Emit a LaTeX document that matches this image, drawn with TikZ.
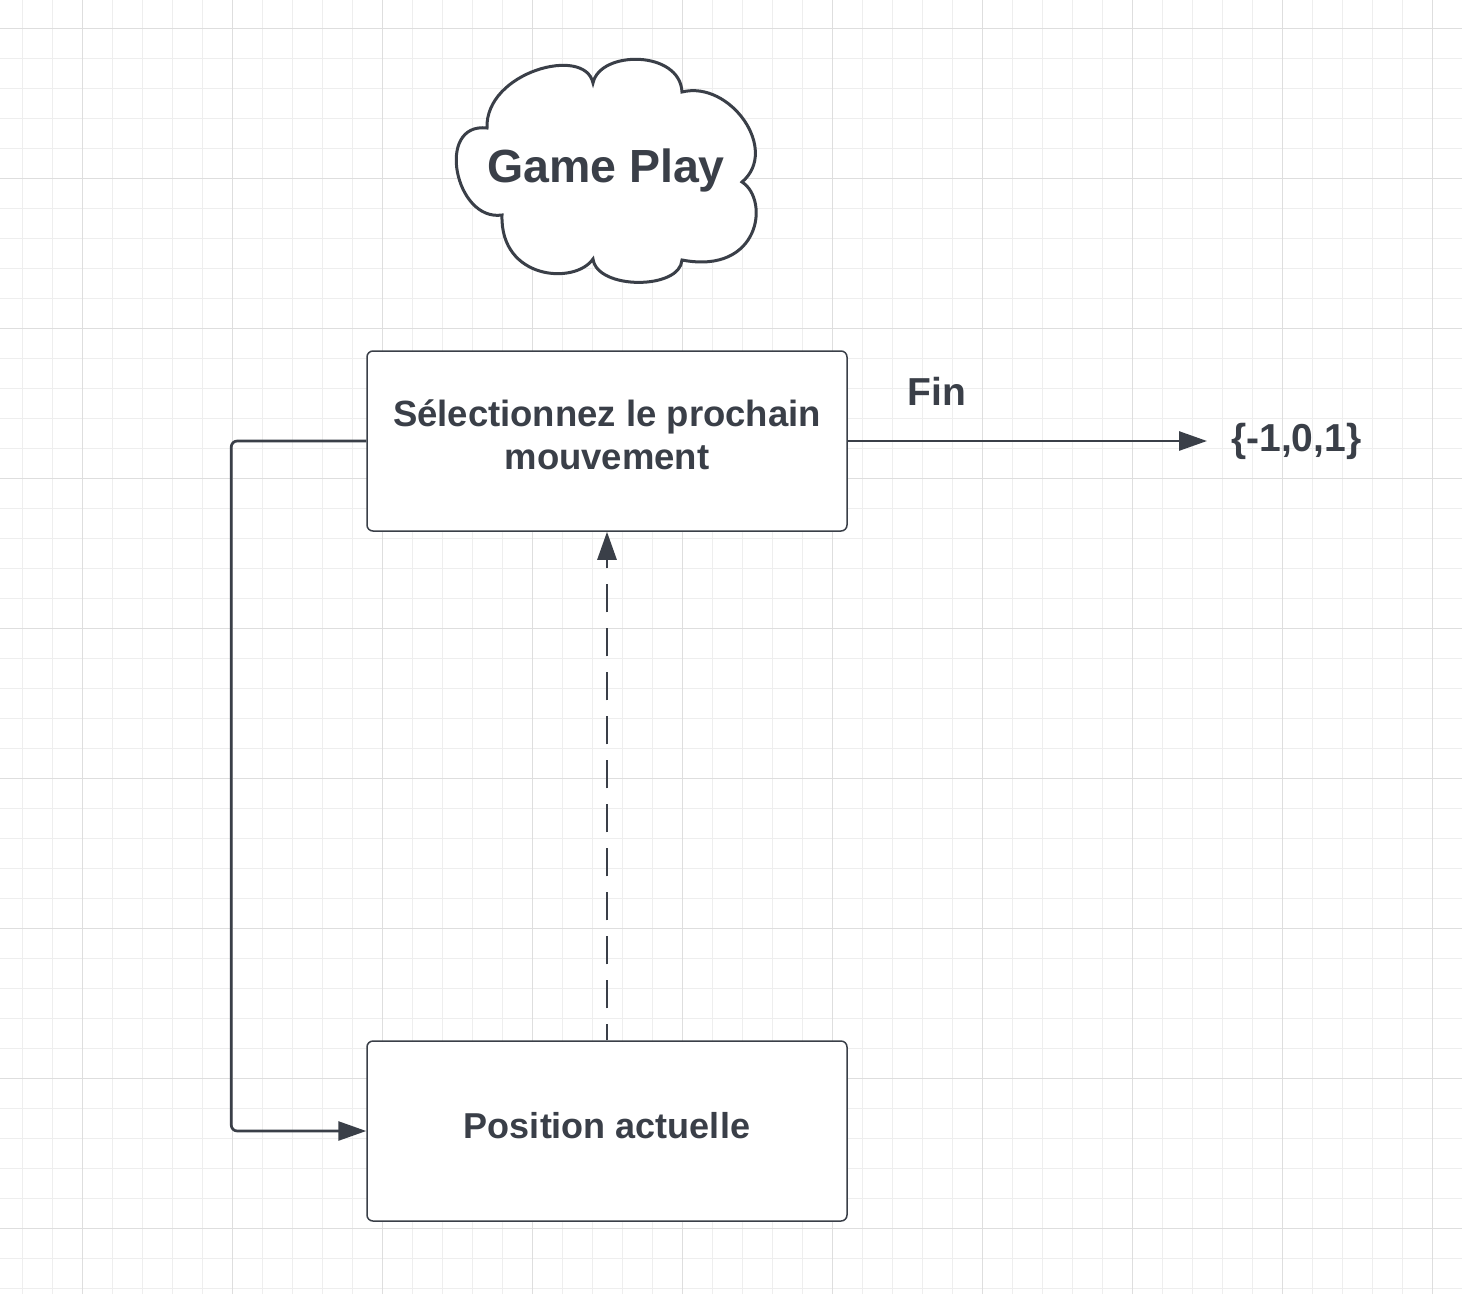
\documentclass[tikz,border=0pt]{standalone}
\usepackage{fontspec}
\setmainfont{Liberation Sans}
\usetikzlibrary{arrows.meta}
\definecolor{ink}{HTML}{3A3F48}
\definecolor{gridlo}{HTML}{EEEEEE}
\definecolor{gridhi}{HTML}{DEDEDE}
\begin{document}
\begin{tikzpicture}[x=1pt,y=-1pt,
  box/.style={draw=ink,line width=1.5pt,fill=white,rounded corners=6pt,
    minimum width=480pt,minimum height=180pt},
  boxtext/.style={text=ink,align=center,font=\fontsize{36.5}{43}\selectfont\bfseries},
  lbl/.style={text=ink,font=\fontsize{39}{44}\selectfont\bfseries},
  flow/.style={draw=ink,line width=2.7pt,-{Triangle[length=28pt,width=19pt]}}]
\useasboundingbox (0,0) rectangle (1462,1294);
\fill[white] (0,0) rectangle (1462,1294);
\foreach \x in {22,52,...,1462} \draw[gridlo,line width=1pt] (\x,0) -- (\x,1294);
\foreach \y in {28,58,...,1294} \draw[gridlo,line width=1pt] (0,\y) -- (1462,\y);
\foreach \x in {82,232,...,1462} \draw[gridhi,line width=1pt] (\x,0) -- (\x,1294);
\foreach \y in {28,178,...,1294} \draw[gridhi,line width=1pt] (0,\y) -- (1462,\y);
% nuage
\draw[ink,line width=3pt,fill=white]
  (487,128) .. controls (485,72) and (585,45) .. (593,83)
  .. controls (600,50) and (680,50) .. (682,92)
  .. controls (730,80) and (780,150) .. (742,182)
  .. controls (770,200) and (760,275) .. (682,260)
  .. controls (680,290) and (597,290) .. (593,259)
  .. controls (575,285) and (500,280) .. (502,215)
  .. controls (455,222) and (435,122) .. cycle;
\node[text=ink,font=\fontsize{46.5}{50}\selectfont\bfseries] (titre) at (606,170) {Game Play};
\node[box] (sel) at (607,441) {};
\node[boxtext] (seltxt) at ([yshift=6pt]sel.center) {Sélectionnez le prochain\\mouvement};
\node[box] (pos) at (607,1131) {};
\node[boxtext,font=\fontsize{36}{43}\selectfont\bfseries] (postxt) at ([yshift=5pt]pos.center) {Position actuelle};
\node[lbl] (fin) at (937,391) {Fin};
\node[lbl,anchor=west,inner sep=0pt] (res) at (1231,441) {\{-1,0,1\}};
\draw[flow] (sel.east) -- ([xshift=-24]res.west);
\draw[flow,rounded corners=6pt] (sel.west) -- ([xshift=-135]sel.west) |- (pos.west);
\draw[flow,dash pattern=on 28pt off 16pt,dash phase=12pt] (pos.north) -- (sel.south);
\end{tikzpicture}
\end{document}
